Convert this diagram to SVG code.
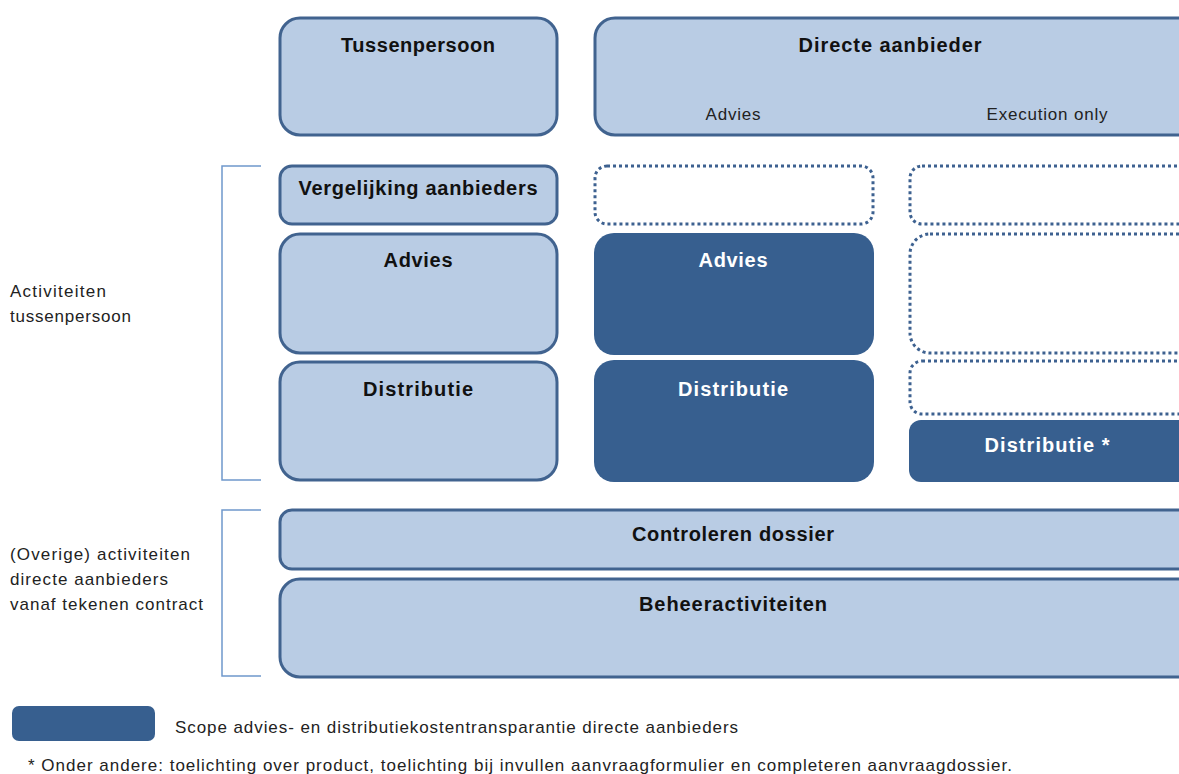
<svg xmlns="http://www.w3.org/2000/svg" width="1179" height="774" viewBox="0 0 1179 774">
<style>
.light{fill:#b9cce4;stroke:#41638f;stroke-width:3}
.dark{fill:#375f8f;stroke:none}
.dot{fill:#fff;stroke:#3d6190;stroke-width:3;stroke-dasharray:3 3}
.br{fill:none;stroke:#6f98cc;stroke-width:1.5}
.t{font-family:"Liberation Sans",Arial,sans-serif;font-size:20px;font-weight:bold;fill:#111;text-anchor:middle}
.tw{font-family:"Liberation Sans",Arial,sans-serif;font-size:20px;font-weight:bold;fill:#fff;text-anchor:middle}
.s{font-family:"Liberation Sans",Arial,sans-serif;font-size:17px;fill:#222}
</style>
<rect width="1179" height="774" fill="#fff"/>
<g id="connectors">
<path class="br" d="M261,166 H222 V480 H261"/>
<path class="br" d="M261,510 H222 V676 H261"/>
</g>
<g id="tussenpersoon"><rect class="light" x="280" y="18" width="277" height="117" rx="20"/><text class="t" x="418" y="52" textLength="154">Tussenpersoon</text></g>
<g id="directe-aanbieder"><rect class="light" x="595" y="18" width="620" height="117" rx="20"/><text class="t" x="890" y="52" textLength="183">Directe aanbieder</text><text class="s" x="733" y="120" text-anchor="middle" textLength="55">Advies</text><text class="s" x="1047" y="120" text-anchor="middle" textLength="121">Execution only</text></g>
<g id="vergelijking"><rect class="light" x="280" y="166" width="277" height="58" rx="12"/><text class="t" x="418" y="195" textLength="239">Vergelijking aanbieders</text></g>
<g id="advies-tp"><rect class="light" x="280" y="234" width="277" height="119" rx="20"/><text class="t" x="418" y="267" textLength="69">Advies</text></g>
<g id="distributie-tp"><rect class="light" x="280" y="362" width="277" height="118" rx="20"/><text class="t" x="418" y="396" textLength="110">Distributie</text></g>
<g id="dot-1"><rect class="dot" x="595" y="166" width="278" height="58" rx="12"/></g>
<g id="advies-da"><rect class="dark" x="594" y="233" width="280" height="122" rx="20"/><text class="tw" x="733" y="267" textLength="69">Advies</text></g>
<g id="distributie-da"><rect class="dark" x="594" y="360" width="280" height="122" rx="20"/><text class="tw" x="733" y="396" textLength="110">Distributie</text></g>
<g id="dot-2"><rect class="dot" x="910" y="166" width="300" height="58" rx="12"/></g>
<g id="dot-3"><rect class="dot" x="910" y="234" width="300" height="119" rx="20"/></g>
<g id="dot-4"><rect class="dot" x="910" y="361" width="300" height="53" rx="12"/></g>
<g id="distributie-eo"><rect class="dark" x="909" y="420" width="300" height="62" rx="12"/><text class="tw" x="1047" y="452" textLength="125">Distributie *</text></g>
<g id="controleren"><rect class="light" x="280" y="510" width="930" height="59" rx="12"/><text class="t" x="733" y="541" textLength="202">Controleren dossier</text></g>
<g id="beheer"><rect class="light" x="280" y="579" width="930" height="98" rx="20"/><text class="t" x="733" y="611" textLength="188">Beheeractiviteiten</text></g>
<g id="labels">
<text class="s" x="10" y="297" textLength="96">Activiteiten</text>
<text class="s" x="10" y="322" textLength="121">tussenpersoon</text>
<text class="s" x="10" y="560" textLength="180">(Overige) activiteiten</text>
<text class="s" x="10" y="585" textLength="158">directe aanbieders</text>
<text class="s" x="10" y="610" textLength="193">vanaf tekenen contract</text>
</g>
<g id="legend"><rect class="dark" x="12" y="706" width="143" height="35" rx="7"/><text class="s" x="175" y="733" textLength="563">Scope advies- en distributiekostentransparantie directe aanbieders</text></g>
<g id="footnote"><text class="s" x="28" y="771" textLength="984">* Onder andere: toelichting over product, toelichting bij invullen aanvraagformulier en completeren aanvraagdossier.</text></g>
</svg>
